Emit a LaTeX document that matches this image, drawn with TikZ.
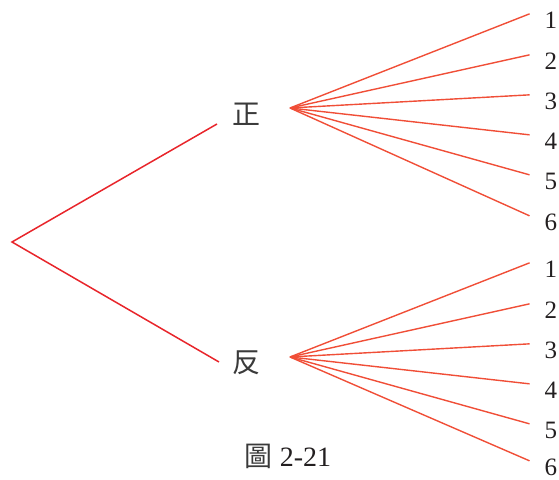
\documentclass[tikz,border=0pt]{standalone}
\usepackage{fontspec}
\setmainfont{Liberation Serif}
\newfontfamily\cjk{Noto Sans CJK TC}
\usepackage{xcolor}
\usepackage{tikz}
\usetikzlibrary{positioning, calc}

\definecolor{branchred}{HTML}{E8252B}
\definecolor{fanred}{HTML}{F04E37}
\definecolor{inkgray}{HTML}{3A3A3A}
\definecolor{numink}{HTML}{231F20}

\begin{document}
\begin{tikzpicture}[x=0.5pt, y=-0.5pt,
    trunk/.style={draw=branchred, line width=0.75pt},
    fanline/.style={draw=fanred, line width=0.7pt},
    side/.style={font=\cjk\fontsize{14}{14}\selectfont, text=inkgray},
    num/.style={font=\fontsize{12.5}{13}\selectfont, text=numink, inner xsep=7.4pt, inner ysep=0pt}]
  \useasboundingbox (0,0) rectangle (559,480);

  % first toss
  \coordinate (root) at (12,242);
  \node[side] (zheng) at (247,114) {正};
  \node[side] (fan) at (247,363) {反};
  \coordinate (zheng-in) at (217,124);
  \coordinate (fan-in) at (219,362);
  \draw[trunk] (zheng-in) -- (root) -- (fan-in);

  % die, six faces
  \coordinate (zheng-out) at (290,108);
  \coordinate (fan-out) at (290,357);
  \foreach \n/\y in {1/20, 2/61, 3/101, 4/141, 5/181, 6/222} {
    \node[num] (up\n) at (551,\y) {\n};
    \draw[fanline] (zheng-out) -- (up\n.164);
  }
  \foreach \n/\y in {1/269, 2/310, 3/350, 4/390, 5/430, 6/467} {
    \node[num] (dn\n) at (551,\y) {\n};
    \draw[fanline] (fan-out) -- (dn\n.164);
  }

  \node[font=\fontsize{14}{14}\selectfont, text=numink] (caption) at (288,456) {{\cjk\color{inkgray}圖} 2-21};
\end{tikzpicture}
\end{document}
